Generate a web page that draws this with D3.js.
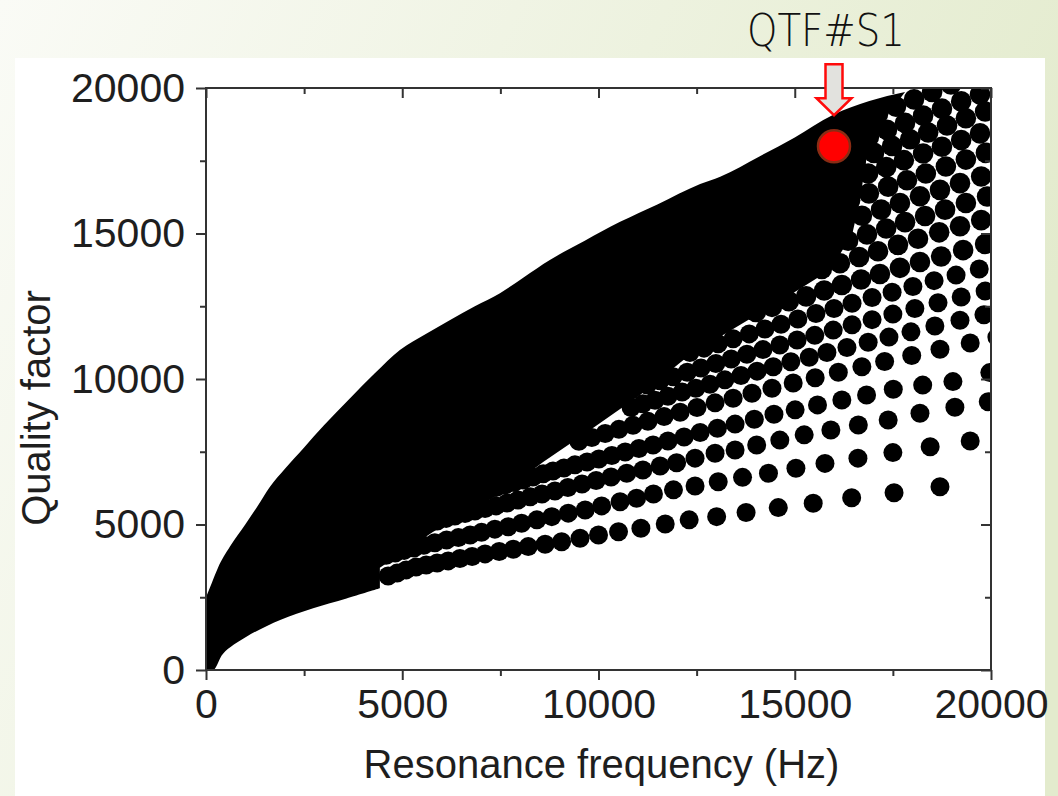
<!DOCTYPE html>
<html>
<head>
<meta charset="utf-8">
<script src="https://cdn.jsdelivr.net/npm/d3@7"></script>
<style>
  html, body { margin: 0; padding: 0; overflow: hidden; }
  svg { display: block; }
  .tick text { font-family: "Liberation Sans", Arial, sans-serif; font-size: 41px; fill: #1e1e1e; }
  .axis-label { font-family: "Liberation Sans", Arial, sans-serif; font-size: 40px; fill: #1e1e1e; }
  .tag { font-family: "DejaVu Sans", sans-serif; font-weight: 200; font-size: 44px; fill: #111; }
</style>
</head>
<body>
<div id="chart"></div>
<script>
// axis ticks
const freqTicks = [0, 5000, 10000, 15000, 20000];
const freqMinor = [2500, 7500, 12500, 17500];
const qTicks = [0, 5000, 10000, 15000, 20000];
const qMinor = [2500, 7500, 12500, 17500];

// highlighted tuning fork
const markerName = 'QTF#S1';
const markerPoint = [16000, 18000];

// solid (fully overlapping) part of the cloud: [frequency Hz, Q]
const solidUpper = [[0, 2500], [150, 3000], [300, 3500], [611, 4240], [1000, 5000], [1300, 5600],
  [1630, 6300], [2000, 6900], [2500, 7650], [3000, 8400], [3670, 9340], [4300, 10200], [4940, 11000],
  [5600, 11550], [6220, 12030], [6850, 12500], [7490, 12950], [8100, 13500], [8760, 14090], [9650, 14750],
  [10550, 15400], [11500, 16000], [12590, 16700], [13100, 16950], [14100, 17650], [15000, 18300],
  [15970, 19070], [16900, 19550], [17810, 19860]];
const solidEdge = [[17170, 18730], [16820, 17520], [16660, 16150], [16460, 14950], [15900, 13750],
  [14880, 12890], [13610, 11860], [12330, 10830], [11060, 9450], [9860, 8320], [8590, 7150],
  [7570, 6120], [5780, 4740], [4430, 3510]];
const solidLower = [[4430, 2810], [3580, 2460], [2730, 2120], [1890, 1720], [1040, 1150], [440, 570],
  [190, 0], [0, 0]];

// separated dots, one array per row: [frequency Hz, Q]
const row01 = [[18700, 6300], [17530, 6090], [16450, 5920], [15470, 5730], [14580, 5580], [13760, 5410],
  [13010, 5270], [12310, 5160], [11700, 5020], [11080, 4870], [10510, 4750], [10000, 4640], [9530, 4530],
  [9060, 4410], [8640, 4320], [8210, 4240], [7830, 4150], [7470, 4070], [7110, 3990], [6780, 3900],
  [6470, 3830], [6170, 3750], [5890, 3680], [5610, 3610], [5350, 3540], [5100, 3440], [4870, 3330], [4640, 3230]];
const row02 = [[19470, 7870], [18450, 7670], [17500, 7470], [16610, 7280], [15770, 7100], [15030, 6930],
  [14330, 6760], [13670, 6620], [13050, 6470], [12460, 6320], [11910, 6190], [11400, 6050], [10970, 5900],
  [10550, 5780], [10080, 5640], [9660, 5500], [9230, 5390], [8810, 5270], [8430, 5160], [8040, 5040],
  [7700, 4920], [7360, 4840], [7020, 4730], [6730, 4640], [6430, 4550], [6130, 4470], [5830, 4370],
  [5550, 4290], [5300, 4190], [5050, 4110], [4820, 4020], [4590, 3940]];
const row03 = [[19930, 9220], [19080, 9030], [18190, 8820], [17380, 8590], [16620, 8420], [15920, 8250],
  [15240, 8080], [14620, 7900], [14030, 7730], [13480, 7560], [12970, 7450], [12460, 7280], [11990, 7120],
  [11570, 7010], [11130, 6870], [10720, 6760], [10320, 6630], [9940, 6510], [9580, 6390], [9220, 6270],
  [8890, 6150], [8560, 6050], [8260, 5950], [7950, 5840], [7670, 5740], [7390, 5640], [7110, 5550],
  [6850, 5460], [6600, 5380], [6340, 5290], [6120, 5210], [5890, 5120]];
const row04 = [[19970, 10220], [19030, 9910], [18260, 9790], [17510, 9650], [16830, 9450], [16200, 9280],
  [15580, 9110], [15010, 8940], [14470, 8790], [13970, 8620], [13480, 8450], [13030, 8310], [12590, 8160],
  [12180, 8010], [11770, 7870], [11390, 7730], [11030, 7610], [10680, 7490], [10340, 7370], [10010, 7250],
  [9710, 7150], [9400, 7050], [9120, 6940], [8840, 6840], [8590, 6740], [8330, 6630], [8080, 6530],
  [7850, 6440], [7620, 6360], [7390, 6270]];
const row05 = [[20150, 11440], [19470, 11240], [18700, 11020], [17980, 10810], [17290, 10600], [16710, 10420],
  [16110, 10230], [15520, 10040], [14960, 9860], [14420, 9680], [13910, 9510], [13430, 9340], [12970, 9180],
  [12510, 9020], [12080, 8860], [11670, 8710], [11260, 8550], [10880, 8410], [10520, 8270], [10170, 8130],
  [9830, 7990], [9500, 7860]];
const row06 = [[19820, 12210], [19210, 12020], [18570, 11820], [17960, 11620], [17400, 11440], [16870, 11260],
  [16330, 11080], [15820, 10910], [15370, 10750], [14900, 10590], [14450, 10420], [14040, 10270],
  [13630, 10120], [13220, 9970], [12840, 9820], [12480, 9680], [12130, 9550], [11770, 9410], [11440, 9270],
  [11130, 9150], [10830, 9020]];
const row07 = [[19850, 13020], [19240, 12820], [18650, 12620], [18060, 12420], [17500, 12230], [16970, 12040],
  [16460, 11860], [15980, 11680], [15510, 11500], [15060, 11340], [14620, 11170], [14190, 11010],
  [13780, 10850], [13380, 10690], [12990, 10530], [12610, 10380], [12260, 10230], [11900, 10080],
  [11570, 9940], [11240, 9790]];
const row08 = [[19700, 13780], [19110, 13570], [18550, 13380], [18010, 13180], [17480, 12980], [16970, 12800],
  [16460, 12600], [16000, 12420], [15540, 12250], [15080, 12060], [14650, 11880], [14240, 11720],
  [13840, 11550], [13430, 11380], [13050, 11210], [12690, 11060], [12330, 10910]];
const row09 = [[19850, 14640], [19290, 14430], [18730, 14210], [18190, 14020], [17680, 13820], [17170, 13610],
  [16690, 13420], [16200, 13230], [15750, 13040], [15290, 12840], [14850, 12670], [14420, 12480], [14010, 12300]];
const row10 = [[19750, 15460], [19210, 15250], [18680, 15040], [18140, 14820], [17630, 14610], [17120, 14390],
  [16640, 14190], [16150, 13980], [15690, 13780]];
const row11 = [[19900, 16270], [19360, 16050], [18830, 15820], [18320, 15600], [17810, 15390], [17330, 15170],
  [16840, 14970], [16360, 14750]];
const row12 = [[19750, 16960], [19210, 16730], [18700, 16500], [18190, 16280], [17680, 16050], [17200, 15820],
  [16710, 15610], [16230, 15380]];
const row13 = [[19870, 17770], [19360, 17540], [18850, 17300], [18340, 17060], [17860, 16830], [17380, 16610],
  [16890, 16380], [16410, 16140]];
const row14 = [[19720, 18440], [19240, 18210], [18750, 17980], [18270, 17750], [17780, 17520], [17330, 17280],
  [16870, 17060]];
const row15 = [[19850, 19190], [19360, 18960], [18880, 18710], [18400, 18470], [17940, 18240], [17480, 18010],
  [17020, 17770], [16560, 17530]];
const row16 = [[19720, 19780], [19240, 19540], [18750, 19290], [18270, 19050], [17810, 18800], [17350, 18560],
  [16890, 18320]];
const row17 = [[18980, 20120], [18500, 19860], [18040, 19610], [17580, 19360], [17120, 19100], [16660, 18850],
  [16200, 18590]];

const dotRows = [row01, row02, row03, row04, row05, row06, row07, row08, row09,
  row10, row11, row12, row13, row14, row15, row16, row17];

drawChart();

function drawChart() {
    const width = 1058;
    const height = 796;
    const margin = { top: 88, right: 67, bottom: 126, left: 206 };
    const pw = width - margin.left - margin.right;
    const ph = height - margin.top - margin.bottom;

    const svg = d3.select('#chart')
        .append('svg')
        .attr('width', width)
        .attr('height', height);

    const defs = svg.append('defs');
    const grad = defs.append('linearGradient')
        .attr('id', 'bg')
        .attr('x1', 0).attr('y1', 0).attr('x2', 1).attr('y2', 0.35);
    grad.append('stop').attr('offset', '0%').attr('stop-color', '#fafbf6');
    grad.append('stop').attr('offset', '100%').attr('stop-color', '#e3ebcd');

    defs.append('clipPath')
        .attr('id', 'plot-clip')
        .append('rect')
        .attr('width', pw)
        .attr('height', ph);

    // slide background and white picture panel
    svg.append('rect').attr('width', width).attr('height', height).attr('fill', 'url(#bg)');
    svg.append('rect')
        .attr('x', 15).attr('y', 58)
        .attr('width', 1030).attr('height', height - 58)
        .attr('fill', '#ffffff');

    const g = svg.append('g')
        .attr('transform', `translate(${margin.left},${margin.top})`);

    const x = d3.scaleLinear().domain([0, 20000]).range([0, pw]);
    const y = d3.scaleLinear().domain([0, 20000]).range([ph, 0]);

    const plot = g.append('g').attr('clip-path', 'url(#plot-clip)');

    // dense region where the dots merge: smooth outer curves, straight inner edge
    const upperLine = d3.line().x(d => x(d[0])).y(d => y(d[1])).curve(d3.curveMonotoneX);
    const edgeLine = d3.line().x(d => x(d[0])).y(d => y(d[1]));
    const lowerLine = d3.line().x(d => x(d[0])).y(d => y(d[1])).curve(d3.curveCatmullRom);
    const cloudPath = upperLine(solidUpper)
        + edgeLine(solidEdge).replace(/^M/, 'L')
        + lowerLine(solidLower).replace(/^M/, 'L')
        + 'Z';
    plot.append('path')
        .attr('d', cloudPath)
        .attr('fill', '#000');

    // separated dots (upper rows pack tighter, so they overlap more)
    const dots = dotRows.flatMap((row, i) => row.map(p => ({ f: p[0], q: p[1], row: i })));
    plot.selectAll('circle.dot')
        .data(dots)
        .join('circle')
        .attr('class', 'dot')
        .attr('cx', d => x(d.f))
        .attr('cy', d => y(d.q))
        .attr('r', d => d.row >= 8 ? 10.3 : 9.5)
        .attr('fill', '#000');

    const styleAxis = sel => {
        sel.select('.domain').remove();
        sel.selectAll('.tick line').attr('stroke', '#333').attr('stroke-width', 2);
    };

    // bottom axis (ticks outside)
    g.append('g')
        .attr('transform', `translate(0,${ph})`)
        .call(d3.axisBottom(x).tickValues(freqTicks).tickSize(10).tickPadding(9).tickFormat(d3.format('d')))
        .call(styleAxis);
    g.append('g')
        .attr('transform', `translate(0,${ph})`)
        .call(d3.axisBottom(x).tickValues(freqMinor).tickSize(6).tickFormat(''))
        .call(styleAxis);

    // top axis (ticks inside)
    g.append('g')
        .call(d3.axisBottom(x).tickValues(freqTicks).tickSize(10).tickFormat(''))
        .call(styleAxis);
    g.append('g')
        .call(d3.axisBottom(x).tickValues(freqMinor).tickSize(6).tickFormat(''))
        .call(styleAxis);

    // left axis (ticks outside)
    g.append('g')
        .call(d3.axisLeft(y).tickValues(qTicks).tickSize(10).tickPadding(11).tickFormat(d3.format('d')))
        .call(styleAxis);
    g.append('g')
        .call(d3.axisLeft(y).tickValues(qMinor).tickSize(6).tickFormat(''))
        .call(styleAxis);

    // right axis (ticks inside)
    g.append('g')
        .attr('transform', `translate(${pw},0)`)
        .call(d3.axisLeft(y).tickValues(qTicks).tickSize(10).tickFormat(''))
        .call(styleAxis);
    g.append('g')
        .attr('transform', `translate(${pw},0)`)
        .call(d3.axisLeft(y).tickValues(qMinor).tickSize(6).tickFormat(''))
        .call(styleAxis);

    // frame
    g.append('rect')
        .attr('width', pw)
        .attr('height', ph)
        .attr('fill', 'none')
        .attr('stroke', '#333')
        .attr('stroke-width', 2);

    // axis titles
    g.append('text')
        .attr('class', 'axis-label')
        .attr('x', pw / 2 + 3)
        .attr('y', ph + 108)
        .attr('text-anchor', 'middle')
        .text('Resonance frequency (Hz)');

    g.append('text')
        .attr('class', 'axis-label')
        .attr('transform', `translate(${50 - margin.left},${ph / 2 + 29}) rotate(-90)`)
        .attr('text-anchor', 'middle')
        .text('Quality factor');

    // highlighted point with arrow and tag
    const mx = x(markerPoint[0]);
    const my = y(markerPoint[1]);
    const tip = my - 31;
    const arrow = [
        [mx - 8.5, tip - 51], [mx + 8.5, tip - 51], [mx + 8.5, tip - 17], [mx + 17.5, tip - 17],
        [mx, tip], [mx - 17.5, tip - 17], [mx - 8.5, tip - 17]
    ];
    g.append('path')
        .attr('d', d3.line()(arrow) + 'Z')
        .attr('fill', '#e2e2de')
        .attr('stroke', '#ff0a0a')
        .attr('stroke-width', 2.5);

    g.append('circle')
        .attr('cx', mx)
        .attr('cy', my)
        .attr('r', 16)
        .attr('fill', '#ff0000')
        .attr('stroke', '#8a2c14')
        .attr('stroke-width', 2.5);

    svg.append('text')
        .attr('class', 'tag')
        .attr('x', margin.left + mx - 8)
        .attr('y', 46)
        .attr('text-anchor', 'middle')
        .attr('textLength', 158)
        .attr('lengthAdjust', 'spacingAndGlyphs')
        .text(markerName);
}
</script>
</body>
</html>
